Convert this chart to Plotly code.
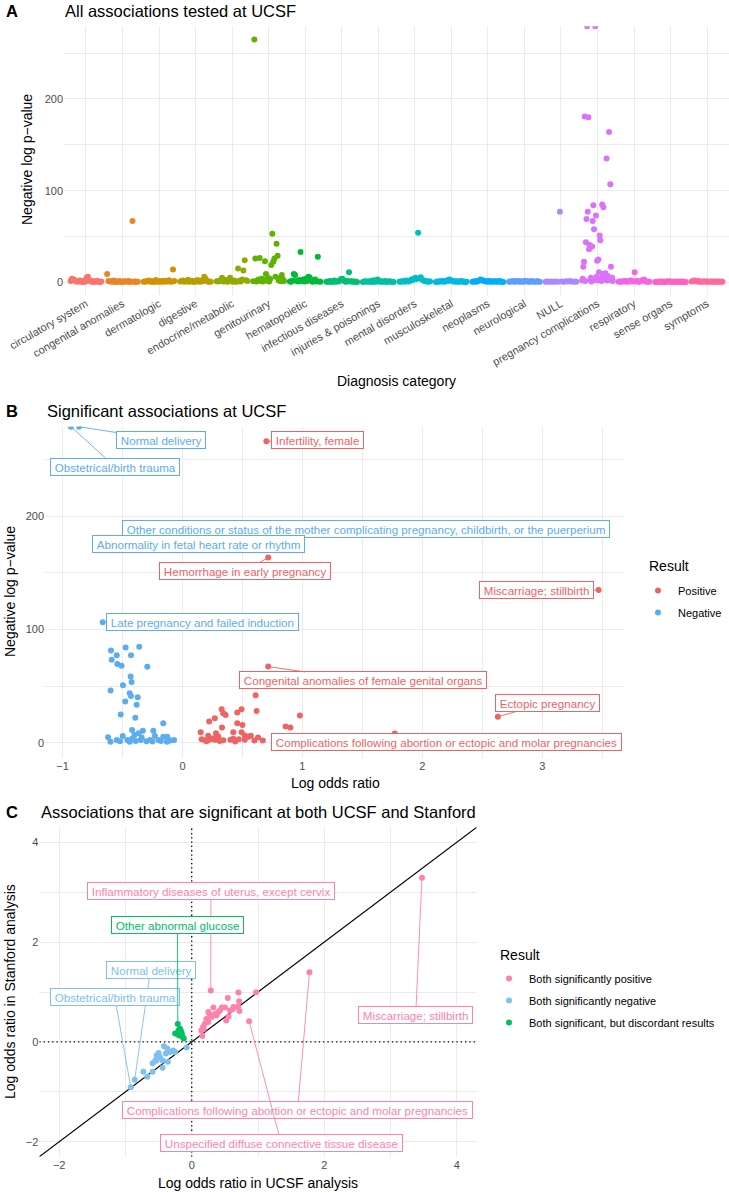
import math
import plotly.graph_objects as go

W, H = 729, 1193
FONT = "Liberation Sans, Arial, Helvetica, sans-serif"
INF = math.inf

# ---------------- Panel A data: -log p per diagnosis category (listed left->right within the jitter band) ----
categories = ["circulatory system", "congenital anomalies", "dermatologic", "digestive",
              "endocrine/metabolic", "genitourinary", "hematopoietic", "infectious diseases",
              "injuries & poisonings", "mental disorders", "musculoskeletal", "neoplasms",
              "neurological", "NULL", "pregnancy complications", "respiratory", "sense organs",
              "symptoms"]
circulatory_system = [1.5, 4, 3, 2.5, 0.8, 1.2, 0.5, 2, 1, 0.3, 1.8, 0.6, 5, 6, 2.2, 0.9, 1.4, 0.4, 1.1, 0.7, 1.6, 0.5, 0.3, 0.8]
congenital_anomalies = [9, 1.5, 0.8, 1.2, 0.5, 2, 0.4, 1, 0.7, 1.3, 0.3, 0.9, 0.6, 1.1, 0.5, 0.8, 1.4, 0.4, 0.9, 67, 0.6, 1.0, 0.5, 0.7]
dermatologic = [0.5, 1, 0.8, 1.5, 2, 0.6, 1.2, 0.9, 0.4, 2.5, 1.1, 0.7, 1.4, 0.5, 0.9, 1.8, 0.6, 1.3, 0.8, 2.2, 1, 0.7, 14, 1.5]
digestive = [0.8, 1.2, 2, 0.5, 1.5, 0.9, 2.8, 0.6, 1.1, 1.7, 0.4, 1.3, 0.8, 2.4, 1, 0.6, 1.9, 1.2, 6, 4, 1.5, 0.7, 1, 0.5]
endocrine_metabolic = [1.2, 0.8, 2, 1.5, 5, 0.9, 2.5, 1.1, 0.6, 3, 5, 1.4, 0.7, 2, 1, 0.5, 15, 1.8, 0.9, 3, 13, 24, 2.2, 1.4]
genitourinary = [1.2, 265, 26, 0.8, 2, 3, 26.5, 1.5, 4, 0.9, 2.5, 23, 9, 1.8, 5, 1, 3.5, 19, 53, 22.5, 26, 6, 42, 29, 2, 4.5, 1.2, 8, 3, 1.5]
hematopoietic = [1, 0.6, 2, 9, 8, 1.5, 0.8, 2.5, 33, 1.2, 3, 0.9, 4, 1.5, 6, 5, 2, 0.7, 1.3, 3, 0.8, 28, 1, 0.5]
infectious_diseases = [0.5, 1, 0.7, 1.5, 0.4, 0.9, 2, 0.6, 1.2, 0.8, 1.8, 3.5, 4, 2, 1, 0.7, 1.5, 11, 0.8, 1.2, 0.5, 0.9, 0.6, 0.4]
injuries_poisonings = [0.3, 0.8, 1.2, 0.5, 1, 0.6, 1.5, 0.4, 2.2, 1, 0.7, 3, 1.8, 0.6, 1.1, 0.5, 0.9, 1.4, 0.4, 0.8, 1.2, 0.5, 0.7, 0.3]
mental_disorders = [0.5, 1, 0.8, 1.4, 0.6, 2, 1.2, 0.9, 1.8, 3, 2.5, 4, 5, 3.5, 54, 4.5, 5.5, 3, 2, 1.5, 0.8, 1.2, 0.6, 0.9]
musculoskeletal = [0.4, 0.9, 0.6, 1.2, 0.8, 1.5, 0.5, 1, 2, 1.4, 3, 2.2, 1.6, 0.9, 1.2, 0.7, 1.1, 0.5, 0.8, 1.3, 0.6, 0.9, 0.4, 0.7]
neoplasms = [0.5, 0.8, 1.2, 0.6, 1.5, 2, 3, 2.5, 1.8, 1.4, 0.9, 1.1, 0.7, 1.3, 0.6, 1, 0.8, 1.2, 0.5, 0.9, 1.4, 0.6, 1, 0.4]
neurological = [0.6, 1, 0.8, 1.3, 0.5, 1.1, 0.9, 1.5, 0.7, 1.2, 0.6, 1, 1.8, 0.8, 1.1, 0.5, 0.9, 1.3, 0.7, 1, 0.6, 1.2, 0.8, 0.5]
null_category = [0.5, 0.8, 0.6, 1, 0.7, 0.9, 0.5, 77, 0.8, 0.6, 1.2, 0.9, 1.4, 0.7, 1, 0.5]
pregnancy_complications = [2, 4, 17, 22.5, 181, 1.5, 43.6, 69, INF, 77, 180, 36, 40.7, 3, 5, 1, 39, 67, 84, 58,
                           2.5, INF, 73, 6, 23.6, 2, 25, 11, 51, 46, 4, 1.5, 85, 9, 82, 6, 3, 10, 5, 135,
                           2, 7, 3, 164, 4, 107, 17, 2, 5, 1.5]
respiratory = [0.5, 0.9, 0.6, 1.2, 0.8, 1.5, 1, 0.7, 1.3, 2, 0.9, 1.1, 11, 0.8, 1.4, 0.6, 1, 1.8, 2.5, 3, 1.2, 0.7, 0.9, 0.5]
sense_organs = [0.3, 0.6, 0.4, 0.8, 0.5, 1, 0.7, 0.4, 0.9, 0.6, 1.2, 0.5, 0.8, 0.4, 0.7, 1, 0.5, 0.6, 0.9, 0.4, 0.8, 0.5, 0.6, 0.3]
symptoms = [0.8, 1.5, 2, 1.2, 0.9, 1.4, 0.7, 1, 0.6, 1.1, 0.8, 0.5, 0.9, 0.7, 1, 0.6, 0.8, 0.5, 0.7, 0.9, 0.6, 0.8, 0.5, 0.7]
panel_a_values = [circulatory_system, congenital_anomalies, dermatologic, digestive, endocrine_metabolic,
                  genitourinary, hematopoietic, infectious_diseases, injuries_poisonings, mental_disorders,
                  musculoskeletal, neoplasms, neurological, null_category, pregnancy_complications,
                  respiratory, sense_organs, symptoms]

# ---------------- Panel B data: significant associations (log OR, -log p) ----------------
b_pos_label_names = ["Infertility, female", "Hemorrhage in early pregnancy", "Miscarriage; stillbirth",
                     "Congenital anomalies of female genital organs", "Ectopic pregnancy",
                     "Complications following abortion or ectopic and molar pregnancies"]
b_pos_label_x = [0.70, 0.715, 3.47, 0.715, 2.63, 1.77]
b_pos_label_y = [266.4, 163.7, 134.9, 67.3, 23.0, 8.0]
b_pos_x = [0.61, 0.618, 0.979, 0.86, 0.9, 0.327, 0.34, 0.36, 0.27, 0.223, 0.457, 0.493, 0.457, 0.5, 0.33,
           0.152, 0.424, 0.493, 0.28, 0.215, 0.3, 0.257, 0.16, 0.187, 0.34, 0.424, 0.47, 0.52, 0.55, 0.57,
           0.63, 0.67, 0.52, 0.225, 0.27, 0.4, 0.2, 0.31, 0.44, 0.6]
b_pos_y = [41.9, 28, 23.9, 14.2, 13.3, 29.5, 26, 24.5, 21.6, 18.6, 26.6, 29.5, 17.2, 15.7, 13.3,
           9.2, 9.2, 9.2, 8.3, 6.2, 5.3, 3.9, 3, 2.1, 2.1, 3.5, 3, 2.5, 5.3, 6,
           4.5, 2, 6.3, 2.5, 2.5, 2.5, 1.2, 1.5, 1.0, 1.8]
b_neg_label_names = ["Normal delivery", "Obstetrical/birth trauma",
                     "Other conditions or status of the mother complicating pregnancy, childbirth, or the puerperium",
                     "Abnormality in fetal heart rate or rhythm", "Late pregnancy and failed induction"]
b_neg_label_x = [-0.862, -0.93, -0.52, -0.45, -0.665]
b_neg_label_y = [INF, INF, 181, 179.5, 106.5]
b_neg_x = [-0.596, -0.548, -0.474, -0.429, -0.36, -0.59, -0.543, -0.507, -0.293, -0.432, -0.424, -0.496,
           -0.599, -0.44, -0.429, -0.373, -0.477, -0.382, -0.515, -0.393, -0.16,
           -0.62, -0.6, -0.548, -0.498, -0.46, -0.42, -0.4, -0.365, -0.348, -0.33, -0.27, -0.243, -0.23,
           -0.2, -0.16, -0.127, -0.13, -0.07, -0.39, -0.3, -0.42, -0.34, -0.25, -0.18, -0.1, -0.52, -0.44]
b_neg_y = [81.4, 77.3, 84.1, 77.3, 84.7, 73.2, 69.6, 67.9, 67, 58.4, 53.7, 50.8,
           46, 43.7, 41.3, 40.2, 36.3, 33.4, 24.8, 22.1, 17.2,
           4.8, 0.9, 2.4, 5.9, 2.4, 11.2, 6.8, 8.3, 2.4, 10.6, 2.4, 10.6, 5.9,
           2.4, 5.3, 5.3, 0.9, 2.4, 1.5, 1.2, 3.5, 4.5, 1.0, 1.5, 2.0, 1.2, 0.8]

# ---------------- Panel C data: log OR UCSF vs Stanford ----------------
c_pos_label_names = ["Miscarriage; stillbirth", "Complications following abortion or ectopic and molar pregnancies",
                     "Unspecified diffuse connective tissue disease", "Inflammatory diseases of uterus, except cervix"]
c_pos_label_x = [3.474, 1.777, 0.866, 0.287]
c_pos_label_y = [3.29, 1.394, 0.414, 1.028]
c_pos_x = [0.704, 0.971, 0.544, 0.715, 0.7, 0.72, 0.326, 0.453, 0.503, 0.428, 0.578, 0.63, 0.25, 0.35, 0.3,
           0.22, 0.196, 0.17, 0.145, 0.16, 0.52, 0.555, 0.375, 0.25, 0.18, 0.27, 0.4, 0.62]
c_pos_y = [0.988, 0.994, 0.88, 0.814, 0.71, 0.62, 0.688, 0.688, 0.688, 0.63, 0.63, 0.7, 0.6, 0.56, 0.5,
           0.46, 0.36, 0.3, 0.23, 0.12, 0.43, 0.51, 0.53, 0.4, 0.26, 0.55, 0.6, 0.66]
c_neg_label_names = ["Normal delivery", "Obstetrical/birth trauma"]
c_neg_label_x = [-0.861, -0.92]
c_neg_label_y = [-0.76, -0.91]
c_neg_x = [-0.418, -0.37, -0.252, -0.076, -0.53, -0.48, -0.55, -0.59, -0.44, -0.36, -0.44, -0.59, -0.73,
           -0.67, -0.33, -0.39, -0.5, -0.28, -0.53]
c_neg_y = [-0.086, -0.13, -0.2, -0.11, -0.27, -0.3, -0.37, -0.43, -0.37, -0.4, -0.52, -0.6, -0.6,
           -0.7, -0.2, -0.23, -0.22, -0.17, -0.37]
c_disc_label_names = ["Other abnormal glucose"]
c_disc_label_x = [-0.21]
c_disc_label_y = [0.36]
c_disc_x = [-0.227, -0.176, -0.15, -0.136, -0.2, -0.12, -0.19, -0.16, -0.25]
c_disc_y = [0.166, 0.266, 0.166, 0.1, 0.23, 0.067, 0.13, 0.21, 0.166]

# ---------------- styling / layout ----------------
A_YRANGE = [-13.3, 279.3]
B_XRANGE, B_YRANGE = [-1.146, 3.69], [-13.3, 279.3]
C_RANGE = [-2.3, 4.3]

POS_B, NEG_B = "#EE6363", "#5CACEE"
POS_C, NEG_C, DISC_C = "#FF82AB", "#7EC0EE", "#00C060"
GRID = "#EBEBEB"
TICK = "#4D4D4D"
LABEL_SIZE = 11.6

# label box centres (text placement, data units of each panel)
B_LABEL_POS = {
    "Normal delivery": (-0.175, 267.9),
    "Obstetrical/birth trauma": (-0.5625, 244.0),
    "Other conditions or status of the mother complicating pregnancy, childbirth, or the puerperium": (1.529, 189.0),
    "Abnormality in fetal heart rate or rhythm": (0.133, 175.4),
    "Hemorrhage in early pregnancy": (0.52, 151.5),
    "Infertility, female": (1.125, 267.9),
    "Late pregnancy and failed induction": (0.167, 106.4),
    "Miscarriage; stillbirth": (2.954, 134.7),
    "Congenital anomalies of female genital organs": (1.504, 55.0),
    "Ectopic pregnancy": (3.04, 34.9),
    "Complications following abortion or ectopic and molar pregnancies": (2.2, 0.6),
}
B_NO_SEGMENT = {"Abnormality in fetal heart rate or rhythm"}
C_LABEL_POS = {
    "Inflammatory diseases of uterus, except cervix": (0.289, 3.02),
    "Other abnormal glucose": (-0.215, 2.35),
    "Normal delivery": (-0.622, 1.44),
    "Obstetrical/birth trauma": (-1.163, 0.908),
    "Miscarriage; stillbirth": (3.38, 0.544),
    "Complications following abortion or ectopic and molar pregnancies": (1.598, -1.356),
    "Unspecified diffuse connective tissue disease": (1.349, -2.026),
}


def px(x):
    return x / W


def py(y):
    return 1 - y / H


def hcl_hex(h, c=100.0, l=65.0):
    hr = math.radians(h)
    u, v = c * math.cos(hr), c * math.sin(hr)
    Xn, Yn, Zn = 95.047, 100.0, 108.883
    den = Xn + 15 * Yn + 3 * Zn
    un, vn = 4 * Xn / den, 9 * Yn / den
    Y = Yn * ((l + 16) / 116) ** 3
    up, vp = u / (13 * l) + un, v / (13 * l) + vn
    X = Y * 9 * up / (4 * vp)
    Z = Y * (12 - 3 * up - 20 * vp) / (4 * vp)
    X, Y, Z = X / 100, Y / 100, Z / 100
    rgb = [3.2404542 * X - 1.5371385 * Y - 0.4985314 * Z,
           -0.9692660 * X + 1.8760108 * Y + 0.0415560 * Z,
           0.0556434 * X - 0.2040259 * Y + 1.0572252 * Z]
    out = []
    for ch in rgb:
        ch = 12.92 * ch if ch <= 0.0031308 else 1.055 * ch ** (1 / 2.4) - 0.055
        out.append(int(round(max(0, min(1, ch)) * 255)))
    return "#%02X%02X%02X" % tuple(out)


n_cat = len(categories)
hue_colors = [hcl_hex(15 + 360 * i / n_cat) for i in range(n_cat)]


def cap(vals, top):
    return [top if v == INF else v for v in vals]


fig = go.Figure()

# ---- Panel A ----
for i, (name, vals) in enumerate(zip(categories, panel_a_values)):
    n = len(vals)
    xs = [i + 1 - 0.42 + 0.84 * k / (n - 1) for k in range(n)]
    fig.add_trace(go.Scatter(x=xs, y=cap(vals, A_YRANGE[1]), mode="markers", xaxis="x", yaxis="y",
                             marker=dict(color=hue_colors[i], size=6), showlegend=False, name=name))

# ---- Panel B ----
fig.add_trace(go.Scatter(x=b_pos_x + b_pos_label_x, y=b_pos_y + cap(b_pos_label_y, B_YRANGE[1]),
                         mode="markers", xaxis="x2", yaxis="y2", name="Positive",
                         marker=dict(color=POS_B, size=6), legend="legend", legendgroup="p"))
fig.add_trace(go.Scatter(x=b_neg_x + b_neg_label_x, y=b_neg_y + cap(b_neg_label_y, B_YRANGE[1]),
                         mode="markers", xaxis="x2", yaxis="y2", name="Negative",
                         marker=dict(color=NEG_B, size=6), legend="legend", legendgroup="n"))

# ---- Panel C ----
fig.add_trace(go.Scatter(x=c_pos_x + c_pos_label_x, y=c_pos_y + c_pos_label_y, mode="markers",
                         xaxis="x3", yaxis="y3", name="Both significantly positive",
                         marker=dict(color=POS_C, size=6), legend="legend2", legendgroup="cp"))
fig.add_trace(go.Scatter(x=c_neg_x + c_neg_label_x, y=c_neg_y + c_neg_label_y, mode="markers",
                         xaxis="x3", yaxis="y3", name="Both significantly negative",
                         marker=dict(color=NEG_C, size=6), legend="legend2", legendgroup="cn"))
fig.add_trace(go.Scatter(x=c_disc_x + c_disc_label_x, y=c_disc_y + c_disc_label_y, mode="markers",
                         xaxis="x3", yaxis="y3", name="Both significant, but discordant results",
                         marker=dict(color=DISC_C, size=6), legend="legend2", legendgroup="cd"))

annotations = []


def label(name, x, y, lx, ly, color, xr, yr, segment=True):
    d = dict(text="\u2009" + name + "\u2009", xref=xr, yref=yr,
             font=dict(family=FONT, size=LABEL_SIZE, color=color),
             bgcolor="white", bordercolor=color, borderwidth=1, borderpad=1.5)
    if segment:
        d.update(x=x, y=y, ax=lx, ay=ly, axref=xr, ayref=yr, showarrow=True, arrowhead=0,
                 arrowwidth=0.9, arrowcolor=color, standoff=0)
    else:
        d.update(x=lx, y=ly, showarrow=False)
    annotations.append(d)


for nm, x, y in zip(b_neg_label_names, b_neg_label_x, cap(b_neg_label_y, B_YRANGE[1])):
    lx, ly = B_LABEL_POS[nm]
    label(nm, x, y, lx, ly, NEG_B, "x2", "y2", nm not in B_NO_SEGMENT)
for nm, x, y in zip(b_pos_label_names, b_pos_label_x, b_pos_label_y):
    lx, ly = B_LABEL_POS[nm]
    label(nm, x, y, lx, ly, POS_B, "x2", "y2")

for names, xs, ys, col in [(c_pos_label_names, c_pos_label_x, c_pos_label_y, POS_C),
                           (c_neg_label_names, c_neg_label_x, c_neg_label_y, NEG_C),
                           (c_disc_label_names, c_disc_label_x, c_disc_label_y, DISC_C)]:
    for nm, x, y in zip(names, xs, ys):
        lx, ly = C_LABEL_POS[nm]
        label(nm, x, y, lx, ly, col, "x3", "y3")


def text(t, x, y, size, bold=False, angle=0, xanchor="left", color="black"):
    annotations.append(dict(text=("<b>%s</b>" % t) if bold else t, x=px(x), y=py(y), xref="paper",
                            yref="paper", showarrow=False, xanchor=xanchor, yanchor="middle",
                            textangle=angle, font=dict(family=FONT, size=size, color=color)))


# titles
text("A", 4, 11, 16.5, bold=True)
text("All associations tested at UCSF", 63, 11, 16.5)
text("B", 4, 411, 16.5, bold=True)
text("Significant associations at UCSF", 45, 411, 16.5)
text("C", 4, 812, 16.5, bold=True)
text("Associations that are significant at both UCSF and Stanford", 39, 812, 16.5)
# axis titles
text("Negative log p\u2212value", 27, 160, 14, angle=-90, xanchor="center")
text("Diagnosis category", 396, 381, 14, xanchor="center")
text("Negative log p\u2212value", 10, 592, 14, angle=-90, xanchor="center")
text("Log odds ratio", 335, 783, 14, xanchor="center")
text("Log odds ratio in Stanford analysis", 10, 992, 14, angle=-90, xanchor="center")
text("Log odds ratio in UCSF analysis", 258, 1183, 14, xanchor="center")
# legend titles
text("Result", 647, 566, 14)
text("Result", 498, 955, 14)

shapes = [
    dict(type="line", xref="x3", yref="y3", x0=C_RANGE[0], y0=C_RANGE[0], x1=C_RANGE[1], y1=C_RANGE[1],
         line=dict(color="black", width=1.2), layer="between"),
    dict(type="line", xref="x3", yref="y3", x0=0, x1=0, y0=C_RANGE[0], y1=C_RANGE[1],
         line=dict(color="black", width=1.3, dash="1.3px,3px"), layer="between"),
    dict(type="line", xref="x3", yref="y3", x0=C_RANGE[0], x1=C_RANGE[1], y0=0, y1=0,
         line=dict(color="black", width=1.3, dash="1.3px,3px"), layer="between"),
]


def axis(domain, rng, anchor, tickvals=None, ticktext=None, dtick=None, minor_dtick=None, tick0=0,
         tickangle=None, minor_tick0=None):
    d = dict(domain=domain, range=rng, anchor=anchor, showline=False, zeroline=False, ticks="",
             showgrid=True, gridcolor=GRID, gridwidth=1.1, automargin=False,
             tickfont=dict(family=FONT, size=11, color=TICK))
    if tickvals is not None:
        d.update(tickmode="array", tickvals=tickvals, ticktext=ticktext)
    if dtick is not None:
        d.update(tick0=tick0, dtick=dtick)
    if minor_dtick is not None:
        d["minor"] = dict(showgrid=True, gridcolor=GRID, gridwidth=0.6, dtick=minor_dtick,
                          tick0=minor_tick0 if minor_tick0 is not None else tick0)
    if tickangle is not None:
        d["tickangle"] = tickangle
    return d


fig.update_layout(
    width=W, height=H, autosize=False, margin=dict(l=0, r=0, t=0, b=0, autoexpand=False),
    paper_bgcolor="white", plot_bgcolor="white", font=dict(family=FONT),
    xaxis=axis([px(64), 1.0], [0.4, n_cat + 0.6], "y", tickvals=list(range(1, n_cat + 1)),
               ticktext=categories, tickangle=-30),
    yaxis=axis([py(294.5), py(26.3)], A_YRANGE, "x", tickvals=[0, 100, 200],
               ticktext=["0", "100", "200"], minor_dtick=50, minor_tick0=0),
    xaxis2=axis([px(45), px(625)], B_XRANGE, "y2", dtick=1, minor_dtick=0.5),
    yaxis2=axis([py(757.7), py(426.7)], B_YRANGE, "x2", dtick=100, minor_dtick=50),
    xaxis3=axis([px(39.3), px(476.7)], C_RANGE, "y3", dtick=2, minor_dtick=1),
    yaxis3=axis([py(1156.7), py(827.3)], C_RANGE, "x3", dtick=2, minor_dtick=1),
    legend=dict(x=px(638), y=py(576), xanchor="left", yanchor="top", bgcolor="rgba(0,0,0,0)",
                font=dict(family=FONT, size=11, color="black"), tracegroupgap=3, itemwidth=30),
    legend2=dict(x=px(489), y=py(964), xanchor="left", yanchor="top", bgcolor="rgba(0,0,0,0)",
                 font=dict(family=FONT, size=11, color="black"), tracegroupgap=3, itemwidth=30),
    annotations=annotations, shapes=shapes,
)

fig.write_html("out.html")
